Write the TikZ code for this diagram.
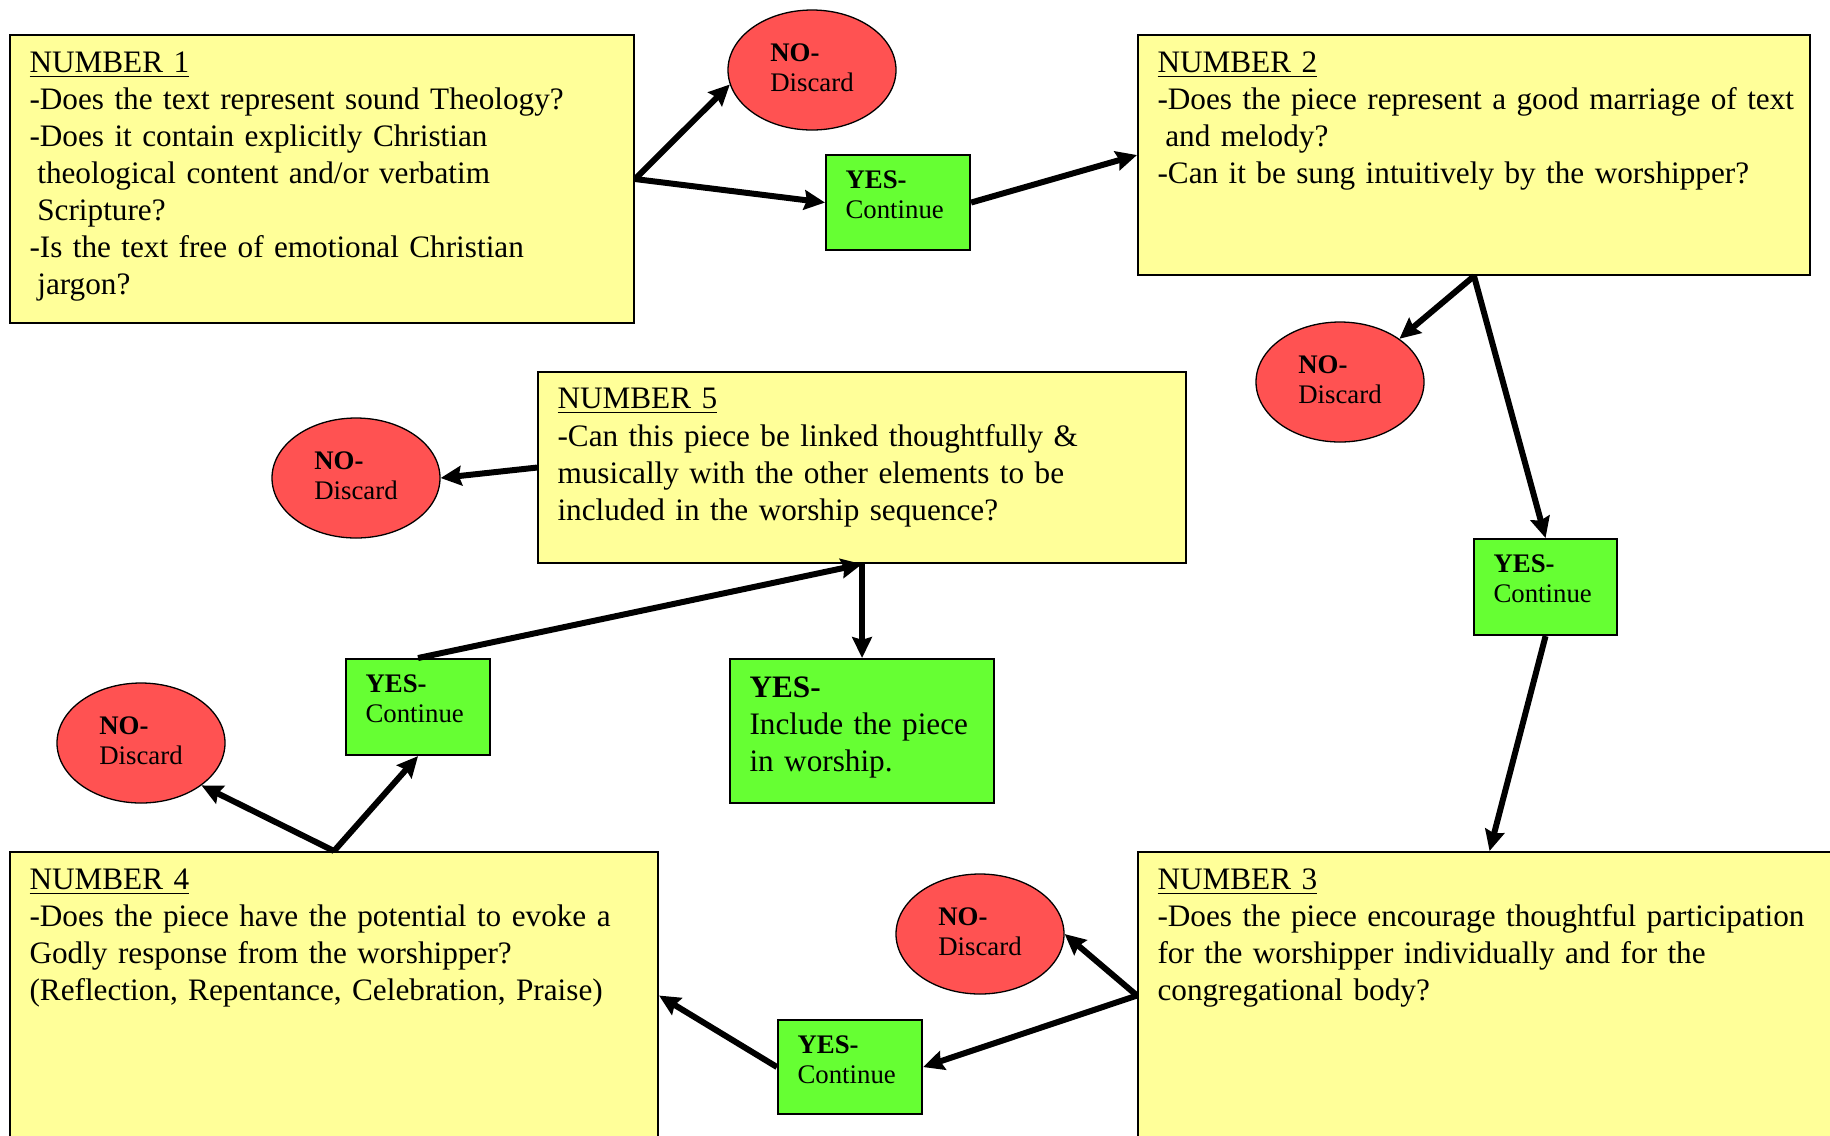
\documentclass[tikz,border=0pt]{standalone}
\usepackage{fontspec}
\setmainfont{Liberation Serif}
\usetikzlibrary{shapes.geometric,arrows.meta}
\definecolor{qyellow}{RGB}{255,255,153}
\definecolor{qgreen}{RGB}{102,255,51}
\definecolor{qred}{RGB}{255,82,82}
\newcommand{\pxu}{0.0135cm}

\begin{document}
\begin{tikzpicture}[x=0.0135cm,y=-0.0135cm,
qbox/.style={draw,line width=0.8pt,fill=qyellow,anchor=north west,inner sep=0pt},
okbox/.style={draw,line width=0.8pt,fill=qgreen,anchor=north west,inner sep=0pt},
nobox/.style={draw,ellipse,line width=0.5pt,fill=qred,minimum width=168*\pxu,minimum height=120*\pxu,inner sep=0pt,align=left,font=\fontsize{10.3}{11.5}\selectfont},
qtext/.style={anchor=north west,inner sep=0pt,text width=10cm,align=left,font=\fontsize{12}{14.25}\selectfont},
oktext/.style={anchor=north west,inner sep=0pt,text width=3cm,align=left,font=\fontsize{10.3}{11.5}\selectfont},
arr/.style={line width=2.3pt,-{Stealth[length=8pt,width=7.5pt,inset=1pt]}}]
\useasboundingbox(0,0)rectangle(1830,1135);
\clip(0,0)rectangle(1830,1135);
% question boxes
\node[qbox,minimum width=624*\pxu,minimum height=288*\pxu](b1)at(9,34){};
\node[qbox,minimum width=672*\pxu,minimum height=240*\pxu](b2)at(1137,34){};
\node[qbox,minimum width=703*\pxu,minimum height=287*\pxu](b3)at(1137,851){};
\node[qbox,minimum width=648*\pxu,minimum height=287*\pxu](b4)at(9,851){};
\node[qbox,minimum width=648*\pxu,minimum height=191*\pxu](b5)at(537,371){};
\node[qtext](t1)at([shift={(20,17)}]b1.north west){\underline{NUMBER 1}\\
-Does the text represent sound Theology?\\
-Does it contain explicitly Christian\\
\hspace*{3pt}theological content and/or verbatim\\
\hspace*{3pt}Scripture?\\
-Is the text free of emotional Christian\\
\hspace*{3pt}jargon?};
\node[qtext](t2)at([shift={(20,17)}]b2.north west){\underline{NUMBER 2}\\
-Does the piece represent a good marriage of text\\
\hspace*{3pt}and melody?\\
-Can it be sung intuitively by the worshipper?};
\node[qtext](t3)at([shift={(20,17)}]b3.north west){\underline{NUMBER 3}\\
-Does the piece encourage thoughtful participation\\
for the worshipper individually and for the\\
congregational body?};
\node[qtext](t4)at([shift={(20,17)}]b4.north west){\underline{NUMBER 4}\\
-Does the piece have the potential to evoke a\\
Godly response from the worshipper?\\
(Reflection, Repentance, Celebration, Praise)};
\node[qtext](t5)at([shift={(20,17)}]b5.north west){\underline{NUMBER 5}\\
-Can this piece be linked thoughtfully \&\\
musically with the other elements to be\\
included in the worship sequence?};
% yes boxes
\node[okbox,minimum width=144*\pxu,minimum height=95*\pxu](y1)at(825,154){};
\node[okbox,minimum width=143*\pxu,minimum height=96*\pxu](y2)at(1473,538){};
\node[okbox,minimum width=144*\pxu,minimum height=94*\pxu](y3)at(777,1019){};
\node[okbox,minimum width=144*\pxu,minimum height=96*\pxu](y4)at(345,658){};
\node[okbox,minimum width=264*\pxu,minimum height=144*\pxu](yf)at(729,658){};
\node[oktext](s1)at([shift={(20,16)}]y1.north west){\textbf{YES-}\\Continue};
\node[oktext](s2)at([shift={(20,16)}]y2.north west){\textbf{YES-}\\Continue};
\node[oktext](s3)at([shift={(20,16)}]y3.north west){\textbf{YES-}\\Continue};
\node[oktext](s4)at([shift={(20,16)}]y4.north west){\textbf{YES-}\\Continue};
\node[qtext](sf)at([shift={(20,18)}]yf.north west){\textbf{YES-}\\Include the piece\\in worship.};
% no ellipses
\node[nobox](n1)at(812,70){\textbf{NO-}\\Discard\rule[-2pt]{0pt}{0pt}};
\node[nobox](n2)at(1340,382){\textbf{NO-}\\Discard\rule[-2pt]{0pt}{0pt}};
\node[nobox](n3)at(980,934){\textbf{NO-}\\Discard\rule[-2pt]{0pt}{0pt}};
\node[nobox](n4)at(141,743){\textbf{NO-}\\Discard\rule[-2pt]{0pt}{0pt}};
\node[nobox](n5)at(356,478){\textbf{NO-}\\Discard\rule[-2pt]{0pt}{0pt}};
% arrows
\draw[arr](b1.east)--(n1.190);
\draw[arr](b1.east)--(y1.west);
\draw[arr](y1.east)--(b2.west);
\draw[arr](b2.south)--(n2.36);
\draw[arr](b2.south)--(y2.north);
\draw[arr](y2.south)--(b3.north);
\draw[arr](b3.west)--(n3.east);
\draw[arr](b3.west)--(y3.east);
\draw[arr](y3.west)--(b4.east);
\draw[arr](b4.north)--(n4.325);
\draw[arr](b4.north)--(y4.south);
\draw[arr](y4.north)--(b5.south);
\draw[arr](b5.south)--(yf.north);
\draw[arr](b5.west)--(n5.east);
\end{tikzpicture}
\end{document}
